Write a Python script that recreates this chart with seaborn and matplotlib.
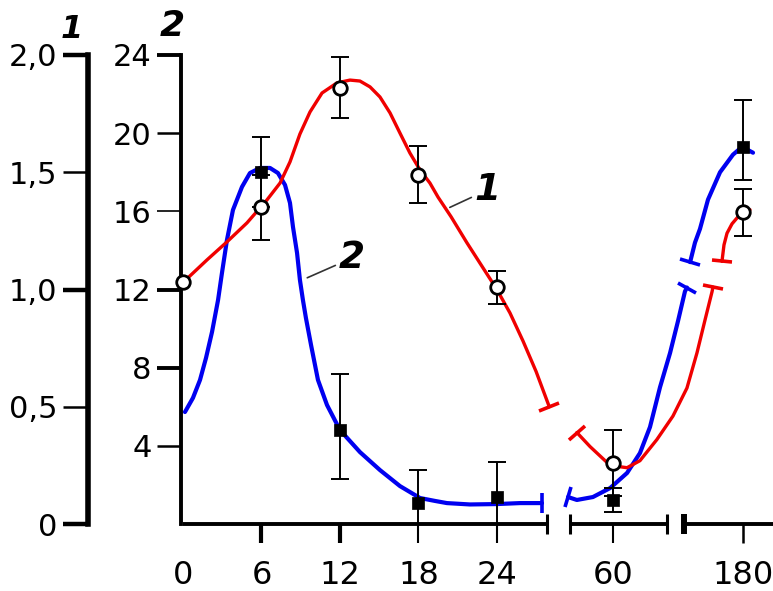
"""
Time course of two indices (1 - red, open circles; 2 - blue, filled squares)
on a broken time axis, each with its own y scale.
"""

import numpy as np
import matplotlib

matplotlib.use("Agg")
import matplotlib.pyplot as plt
import seaborn as sns
from matplotlib.markers import MarkerStyle
from matplotlib.transforms import Affine2D

# ---------------------------------------------------------------
# Data
# ---------------------------------------------------------------

# index 1, plotted on axis "1" (0 - 2.0)
time_1 = [0, 6, 12, 18, 24, 60, 180]
mean_1 = [1.03, 1.35, 1.86, 1.49, 1.01, 0.26, 1.33]
err_1 = [0.0, 0.14, 0.13, 0.12, 0.07, 0.14, 0.10]

# index 2, plotted on axis "2" (0 - 24)
time_2 = [6, 12, 18, 24, 60, 180]
mean_2 = [18.0, 4.8, 1.07, 1.38, 1.23, 19.3]
err_2_low = [1.8, 2.5, 1.07, 1.38, 0.6, 1.7]
err_2_high = [1.8, 2.9, 1.7, 1.8, 0.6, 2.4]

# fitted curves, split where the curve is broken
curve1_a_t = [0, 1.83, 3.36, 4.89, 6.42, 7.42, 8.18, 8.94, 9.71, 10.63, 11.77, 12.77,
              13.53, 14.30, 15.06, 15.83, 16.59, 17.35, 18.12, 18.88, 19.50, 20.5,
              21.7, 22.85, 24.0, 25.0, 26.0, 27.0, 28.06]
curve1_a_y = [1.03, 1.126, 1.203, 1.284, 1.382, 1.454, 1.544, 1.663, 1.757, 1.838, 1.881, 1.893,
              1.889, 1.864, 1.821, 1.753, 1.667, 1.582, 1.510, 1.454, 1.394, 1.31,
              1.20, 1.10, 1.00, 0.90, 0.78, 0.65, 0.50]
curve1_b_t = [47.4, 52.0, 59.0, 64.9, 69.4, 75.3, 80.9, 85.8, 89.3, 102.3, 116.6, 118.6]
curve1_b_y = [0.39, 0.33, 0.25, 0.24, 0.27, 0.36, 0.46, 0.58, 0.73, 0.87, 0.99, 1.01]
curve1_c_t = [137.0, 141.1, 147.3, 157.5, 169.8, 184.1, 194.3]
curve1_c_y = [1.12, 1.19, 1.24, 1.28, 1.31, 1.33, 1.34]

curve2_a_t = [0.15, 0.76, 1.30, 1.76, 2.22, 2.68, 2.98, 3.36, 3.82, 4.51, 5.12, 5.89,
              6.65, 7.26, 7.80, 8.18, 8.41, 8.72, 8.94, 9.17, 9.40, 9.79, 10.32,
              11.01, 12.0, 13.53, 15.06, 16.59, 18.12, 19.27, 20.18, 21.94, 24.0,
              25.76, 27.45]
curve2_a_y = [5.73, 6.45, 7.37, 8.50, 9.83, 11.46, 12.85, 14.53, 16.07, 17.25, 17.96, 18.22,
              18.22, 17.96, 17.35, 16.43, 15.20, 13.87, 12.49, 11.46, 10.54, 9.16, 7.37,
              6.09, 4.81, 3.68, 2.76, 1.94, 1.33, 1.18, 1.07, 1.0, 1.02,
              1.07, 1.07]
curve2_b_t = [43.4, 47.4, 53.0, 59.0, 64.9, 69.4, 72.9, 76.4, 79.9, 82.7, 85.1, 85.8]
curve2_b_y = [1.38, 1.23, 1.38, 1.84, 2.61, 3.63, 4.96, 7.0, 8.75, 10.4, 11.9, 12.1]
curve2_c_t = [86.9, 88.6, 92.0, 108.4, 133.0, 159.5, 178.0, 200.5]
curve2_c_y = [13.4, 14.4, 15.1, 16.6, 18.0, 18.9, 19.3, 19.0]

x_ticks = [0, 6, 12, 18, 24, 60, 180]
y2_ticks = [4, 8, 12, 16, 20, 24]
y1_ticks = [0, 0.5, 1.0, 1.5, 2.0]
y1_labels = ["0", "0,5", "1,0", "1,5", "2,0"]

# ---------------------------------------------------------------
# Layout of the broken time axis (time -> pixel column)
# ---------------------------------------------------------------

T_KNOTS = [-10, 0, 28, 45, 60, 90, 180, 400]
PX_KNOTS = [52.2, 183, 549.2, 570, 613, 699, 743, 850.6]
AXIS_SEGMENTS = [(0, 27.8), (45, 78.8), (84.8, 260)]

RED = "#f00000"
BLUE = "#0000f0"
W, H = 773, 591


def to_axis(t):
    return np.interp(t, T_KNOTS, PX_KNOTS)


def from_axis(u):
    return np.interp(u, PX_KNOTS, T_KNOTS)


sns.set_theme(style="ticks")
plt.rcParams["font.family"] = ["DejaVu Sans"]
plt.rcParams.update({
    "axes.edgecolor": "black", "xtick.color": "black", "ytick.color": "black",
    "text.color": "black", "axes.labelcolor": "black",
})

fig = plt.figure(figsize=(W / 100, H / 100), dpi=100)
ax = fig.add_axes([181 / W, (H - 524) / H, (773 - 181) / W, (524 - 55) / H])
ax.set_xscale("function", functions=(to_axis, from_axis))
ax.set_xlim(from_axis(181), from_axis(773))
ax.set_ylim(0, 24)

ax1 = ax.twinx()
ax1.set_ylim(0, 2)

# --- axis 2 (inner scale, drawn at the plot edge)
for s in ["top", "right", "bottom"]:
    ax.spines[s].set_visible(False)
ax.spines["left"].set_linewidth(2.8)
ax.set_yticks(y2_ticks)
ax.set_yticklabels([str(v) for v in y2_ticks])
ax.tick_params(axis="y", direction="out", length=17, labelsize=22, pad=4, left=True)
for tk, w in zip(ax.yaxis.get_major_ticks(), [1.8, 2.8, 2.8, 1.2, 1.8, 2.8]):
    tk.tick1line.set_markeredgewidth(w)

ax.set_xticks(x_ticks)
ax.set_xticklabels([str(v) for v in x_ticks])
ax.tick_params(axis="x", direction="out", length=14, labelsize=23, pad=12, bottom=True)
for tk, w in zip(ax.xaxis.get_major_ticks(), [0, 3, 3, 1.5, 1.5, 1.5, 1.8]):
    tk.tick1line.set_markeredgewidth(w)
    if w == 0:
        tk.tick1line.set_visible(False)

# --- axis 1 (outer scale)
for s in ["top", "right", "bottom"]:
    ax1.spines[s].set_visible(False)
ax1.yaxis.tick_left()
ax1.spines["left"].set_visible(True)
ax1.spines["left"].set_position(("axes", -93 / 592))
ax1.spines["left"].set_linewidth(4)
ax1.set_yticks(y1_ticks)
ax1.set_yticklabels(y1_labels)
ax1.tick_params(axis="y", direction="out", length=18, labelsize=22, pad=4,
                left=True, right=False, labelleft=True, labelright=False)
for tk, w in zip(ax1.yaxis.get_major_ticks(), [3.2, 1.8, 3.2, 1.8, 3.2]):
    tk.tick1line.set_markeredgewidth(w)

# --- broken x axis line
for t0, t1 in AXIS_SEGMENTS:
    ax.plot([t0, t1], [0, 0], color="black", lw=2.8, clip_on=False, zorder=5,
            solid_capstyle="butt")
for i, (t0, t1) in enumerate(AXIS_SEGMENTS):
    last = i == len(AXIS_SEGMENTS) - 1
    ends = [t1] if i == 0 else [t0] if last else [t0, t1]
    for t in ends:
        ax.plot([t], [0], marker="|", ms=15, mew=4.3 if last else 2.2,
                color="black", clip_on=False, zorder=5)


def break_cap(a, t, y, i_end, i_prev, color):
    p1 = a.transData.transform((t[i_end], y[i_end]))
    p0 = a.transData.transform((t[i_prev], y[i_prev]))
    ang = np.degrees(np.arctan2(p1[1] - p0[1], p1[0] - p0[0])) + 90
    m = MarkerStyle("_", transform=Affine2D().rotate_deg(ang))
    a.plot([t[i_end]], [y[i_end]], marker=m, ms=15, mew=2.6, color=color,
           ls="none", clip_on=False, zorder=2)


def draw_curve(a, pieces, color, lw):
    for k, (t, y) in enumerate(pieces):
        sns.lineplot(x=t, y=y, ax=a, color=color, linewidth=lw, sort=False,
                     estimator=None, legend=False, zorder=2,
                     solid_joinstyle="round", solid_capstyle="round")
        if k > 0:
            break_cap(a, t, y, 0, 1, color)
        if k < len(pieces) - 1:
            break_cap(a, t, y, -1, -2, color)


draw_curve(ax, [(curve2_a_t, curve2_a_y), (curve2_b_t, curve2_b_y),
                (curve2_c_t, curve2_c_y)], BLUE, 3.0)
draw_curve(ax1, [(curve1_a_t, curve1_a_y), (curve1_b_t, curve1_b_y),
                 (curve1_c_t, curve1_c_y)], RED, 2.4)

# --- error bars and markers
ax.errorbar(time_2, mean_2, yerr=[err_2_low, err_2_high], fmt="none", ecolor="black",
            elinewidth=1.4, capsize=6.5, capthick=1.4, clip_on=False, zorder=3)
sns.scatterplot(x=time_2, y=mean_2, ax=ax, marker="s", s=80, color="black",
                edgecolor="black", linewidth=0.5, zorder=4, legend=False)

mask = [e > 0 for e in err_1]
ax1.errorbar([t for t, m in zip(time_1, mask) if m], [v for v, m in zip(mean_1, mask) if m],
             yerr=[e for e, m in zip(err_1, mask) if m], fmt="none", ecolor="black",
             elinewidth=1.4, capsize=6.5, capthick=1.4, clip_on=False, zorder=3)
sns.scatterplot(x=time_1, y=mean_1, ax=ax1, marker="o", s=95, color="white",
                edgecolor="black", linewidth=2.0, zorder=4, legend=False, clip_on=False)

ax.set_xlabel("")
ax.set_ylabel("")
ax1.set_ylabel("")

# --- curve labels with leader lines
lead = dict(arrowstyle="-", color="#333333", lw=1.2, shrinkA=0, shrinkB=0)
ax1.annotate("1", xy=(20.4, 1.35), xytext=(23.3, 1.425), fontsize=27, fontweight="bold",
             style="italic", ha="center", va="center", arrowprops=lead)
ax.annotate("2", xy=(9.5, 12.6), xytext=(12.9, 13.6), fontsize=27, fontweight="bold",
            style="italic", ha="center", va="center", arrowprops=lead)

# --- scale captions
fig.text(72 / W, 1 - 29 / H, "1", fontsize=23, fontweight="bold", style="italic",
         ha="center", va="center")
fig.text(172 / W, 1 - 26 / H, "2", fontsize=26, fontweight="bold", style="italic",
         ha="center", va="center")

fig.savefig("out.png", dpi=100)
plt.close(fig)
